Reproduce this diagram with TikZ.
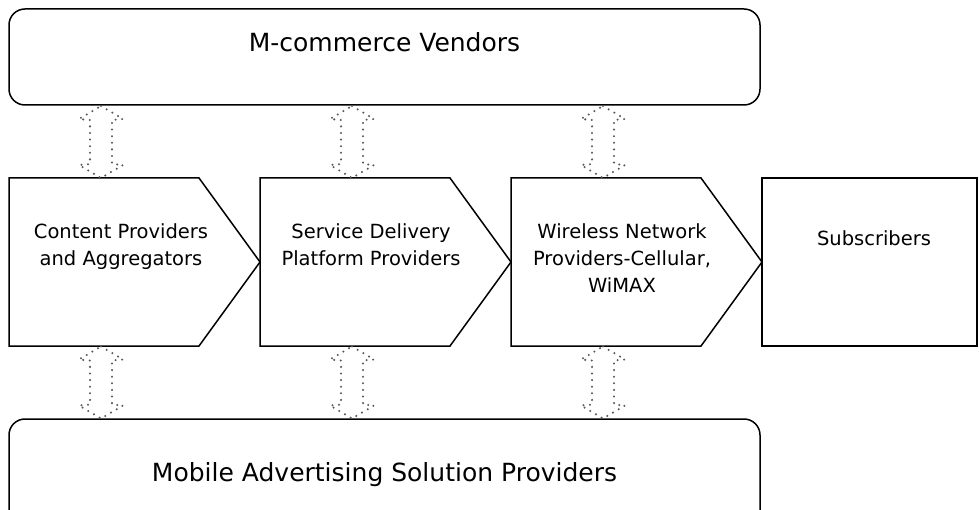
\documentclass[tikz,border=0pt]{standalone}
\usepackage{fontspec}
\setmainfont{DejaVu Sans}
\begin{document}
\begin{tikzpicture}[x=1pt,y=-1pt,
  box/.style={draw=black,line width=1.5pt,line join=miter},
  roundbox/.style={box,rounded corners=16pt},
  head/.style={font=\fontsize{25}{30}\selectfont,inner sep=0pt},
  lbl/.style={font=\fontsize{19.5}{27}\selectfont,align=center,anchor=north,inner sep=0pt},
  dots/.style={draw=black!65,line width=2.3pt,line cap=round,dash pattern=on 0pt off 6.6pt},
  dblarrow/.pic={\draw[dots] (0,-36) -- (22,-23) -- (11,-22) -- (11,22) -- (22,23) -- (0,36)
                   -- (-22,23) -- (-11,22) -- (-11,-22) -- (-22,-23) -- cycle;},
]
\useasboundingbox (0,0) rectangle (979,510);
\clip (0,0) rectangle (979,510);

% vendor and advertiser bands
\draw[roundbox] (9,9) rectangle (760,105);
\node[head] (vendors) at (384.5,42) {M-commerce Vendors};
\draw[roundbox] (9,419) rectangle (760,530);
\node[head,anchor=base] (ads) at (384.5,481) {Mobile Advertising Solution Providers};

% value chain
\draw[box] (9,178) -- (199,178) -- (260,262) -- (199,346) -- (9,346) -- cycle;
\draw[box] (260,178) -- (450,178) -- (511,262) -- (450,346) -- (260,346) -- cycle;
\draw[box] (511,178) -- (701,178) -- (762,262) -- (701,346) -- (511,346) -- cycle;
\draw[box] (762,178) rectangle (977,346);

\node[lbl] (content) at (121,223) {Content Providers\\and Aggregators};
\node[lbl] (sdp) at (371,223) {Service Delivery\\Platform Providers};
\node[lbl] (wireless) at (622,223) {Wireless Network\\Providers-Cellular,\\WiMAX};
\node[lbl] (subs) at (874,230) {Subscribers};

% two-way links to the bands
\foreach \cx in {101,352,603} {
  \pic at (\cx,142) {dblarrow};
  \pic at (\cx,382.5) {dblarrow};
}
\end{tikzpicture}
\end{document}
